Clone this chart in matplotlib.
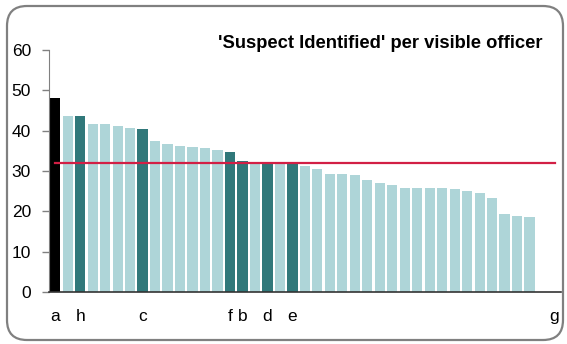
import matplotlib
matplotlib.use("Agg")
import matplotlib.pyplot as plt
from matplotlib.patches import FancyBboxPatch

plt.rcParams["font.family"] = ["Liberation Sans", "DejaVu Sans"]

title = "'Suspect Identified' per visible officer"

labels = ["a", "", "h", "", "", "", "", "c", "", "", "", "", "", "", "f", "b", "", "d", "", "e",
          "", "", "", "", "", "", "", "", "", "", "", "", "", "", "", "", "", "", "", "", "g"]
values = [48.1, 43.6, 43.6, 41.7, 41.6, 41.2, 40.6, 40.3, 37.5, 36.6, 36.1, 36.0, 35.8, 35.2,
          34.6, 32.5, 32.2, 32.3, 31.9, 31.8, 31.3, 30.4, 29.3, 29.2, 28.9, 27.7, 27.1, 26.5,
          25.9, 25.9, 25.7, 25.7, 25.5, 25.0, 24.6, 23.3, 19.4, 18.8, 18.5, 0, 0]
average = 31.9

light = "#aed5d8"
dark = "#30787a"
red = "#d21f45"

colors = []
for i, lab in enumerate(labels):
    if i == 0:
        colors.append("black")
    elif lab:
        colors.append(dark)
    else:
        colors.append(light)

fig = plt.figure(figsize=(5.67, 3.44), dpi=100)
ax = fig.add_axes([0.0864, 0.151, 0.9026, 0.7037])

x = list(range(len(labels)))
ax.bar(x, values, width=0.82, color=colors, linewidth=0, zorder=2)
ax.plot(x, [average] * len(x), color=red, linewidth=1.6, zorder=3)

ax.set_xlim(-0.5, len(labels) - 0.5)
ax.set_ylim(0, 60)
ax.set_yticks(range(0, 61, 10))
ax.set_xticks(x)
ax.set_xticklabels(labels)
ax.tick_params(axis="x", length=0, pad=12, labelsize=12.5)
ax.tick_params(axis="y", length=5, width=1, color="#808080", pad=8, labelsize=12.5)

for s in ["top", "right"]:
    ax.spines[s].set_visible(False)
ax.spines["left"].set_color("#808080")
ax.spines["bottom"].set_color("#333333")
ax.spines["bottom"].set_linewidth(1.2)

fig.text(542 / 567, 1 - 44 / 344, title, ha="right", va="center",
         fontsize=13.2, fontweight="bold")

border = FancyBboxPatch((0.07, 0.04), 5.56, 3.34,
                        boxstyle="round,pad=0,rounding_size=0.2",
                        transform=fig.dpi_scale_trans, facecolor="none",
                        edgecolor="#808080", linewidth=1.6)
fig.patches.append(border)

fig.savefig("out.png", dpi=100)
